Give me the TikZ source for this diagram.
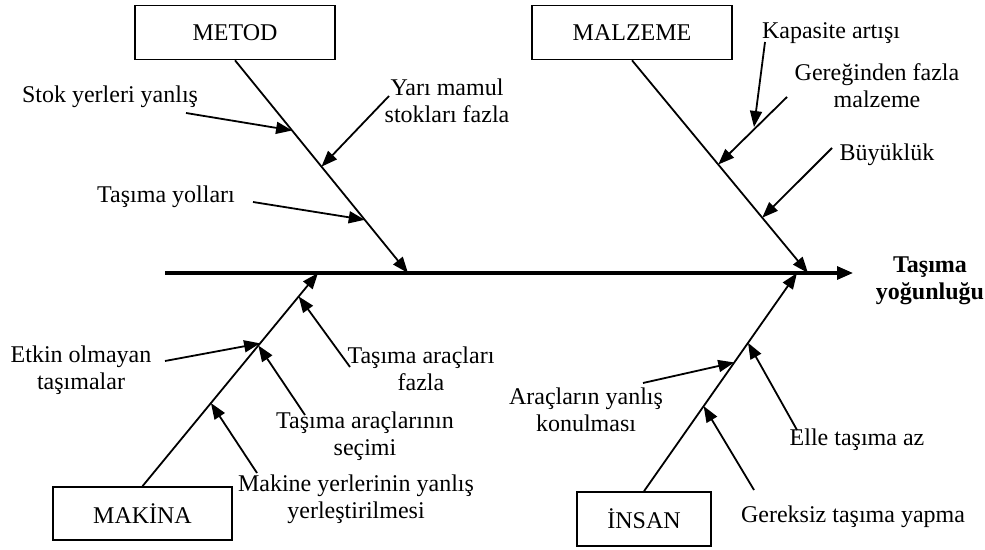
\documentclass[tikz,border=0pt]{standalone}
\usepackage{fontspec}
\setmainfont{Liberation Serif}
\usetikzlibrary{arrows.meta,calc}

\begin{document}
\begin{tikzpicture}[x=0.5pt, y=-0.5pt,
  every node/.style={font=\fontsize{12}{13.5}\selectfont, align=center, inner sep=0pt},
  cause/.style={draw, line width=0.8pt, minimum height=27pt},
  bone/.style={line width=0.9pt, -{Triangle[length=8pt,width=6pt]}},
  twig/.style={line width=0.9pt, -{Triangle[length=8pt,width=6pt]}}]

\useasboundingbox (0,0) rectangle (985,550);

% Main spine
\coordinate (s0) at (165,273);
\coordinate (s1) at (853,273);
\draw[line width=1.6pt, -{Triangle[length=8pt,width=6.5pt]}] (s0) -- (s1);
\node[font=\fontsize{12}{13.5}\selectfont\bfseries] (effect) at (930,281) {Taşıma\\yoğunluğu};

% Cause boxes
\node[cause, minimum width=100pt] (metod) at (235,32.5) {METOD};
\node[cause, minimum width=100pt] (malzeme) at (632,32.5) {MALZEME};
\node[cause, minimum width=89.5pt, minimum height=26.5pt] (makina) at (142.5,513.5) {MAKİNA};
\node[cause, minimum width=67pt] (insan) at (644,519) {İNSAN};

% Ends of the bones on the spine
\coordinate (metodE) at (408,273);
\coordinate (malzemeE) at (808,273);
\coordinate (makinaE) at (318,273);
\coordinate (insanE) at (797,273);

\draw[bone] (metod.south) -- (metodE);
\draw[bone] (malzeme.south) -- (malzemeE);
\draw[bone] (makina.north) -- (makinaE);
\draw[bone] (insan.north) -- (insanE);

% METOD
\node (stok) at (110,97) {Stok yerleri yanlış};
\node (yari) at (447,101) {Yarı mamul\\stokları fazla};
\node (yollar) at (166,197) {Taşıma yolları};
\coordinate (stokS) at (186,113);
\coordinate (yariS) at (389,96);
\coordinate (yollarS) at (253,202);
\draw[twig] (stokS) -- ($(metod.south)!0.33!(metodE)$);
\draw[twig] (yariS) -- ($(metod.south)!0.50!(metodE)$);
\draw[twig] (yollarS) -- ($(metod.south)!0.75!(metodE)$);

% MALZEME
\node (kapasite) at (831,33) {Kapasite artışı};
\node (gerek) at (877,86) {Gereğinden fazla\\malzeme};
\node (buyuk) at (887,155) {Büyüklük};
\coordinate (kapasiteS) at (765,42);
\coordinate (kapasiteE) at (754,127);
\coordinate (gerekS) at (787,97);
\coordinate (buyukS) at (832,148);
\draw[twig] (kapasiteS) -- (kapasiteE);
\draw[twig] (gerekS) -- ($(malzeme.south)!0.49!(malzemeE)$);
\draw[twig] (buyukS) -- ($(malzeme.south)!0.74!(malzemeE)$);

% MAKINA
\node (etkin) at (81,370) {Etkin olmayan\\taşımalar};
\node (aracfazla) at (421,369) {Taşıma araçları\\fazla};
\node (secim) at (365,436) {Taşıma araçlarının\\seçimi};
\node (makyer) at (356,499) {Makine yerlerinin yanlış\\yerleştirilmesi};
\coordinate (etkinS) at (165,361);
\coordinate (aracfazlaS) at (350,367);
\coordinate (secimS) at (305,415);
\coordinate (makyerS) at (257,473);
\draw[twig] (etkinS) -- ($(makina.north)!0.67!(makinaE)$);
\draw[twig] (aracfazlaS) -- ($(makina.north)!0.89!(makinaE)$);
\draw[twig] (secimS) -- ($(makina.north)!0.66!(makinaE)$);
\draw[twig] (makyerS) -- ($(makina.north)!0.39!(makinaE)$);

% INSAN
\node (arackon) at (586,410) {Araçların yanlış\\konulması};
\node (elle) at (857,440) {Elle taşıma az};
\node (gereksiz) at (853,517) {Gereksiz taşıma yapma};
\coordinate (arackonS) at (643,383);
\coordinate (elleS) at (797,430);
\coordinate (gereksizS) at (754,490);
\draw[twig] (arackonS) -- ($(insan.north)!0.59!(insanE)$);
\draw[twig] (elleS) -- ($(insan.north)!0.68!(insanE)$);
\draw[twig] (gereksizS) -- ($(insan.north)!0.39!(insanE)$);

\end{tikzpicture}
\end{document}
